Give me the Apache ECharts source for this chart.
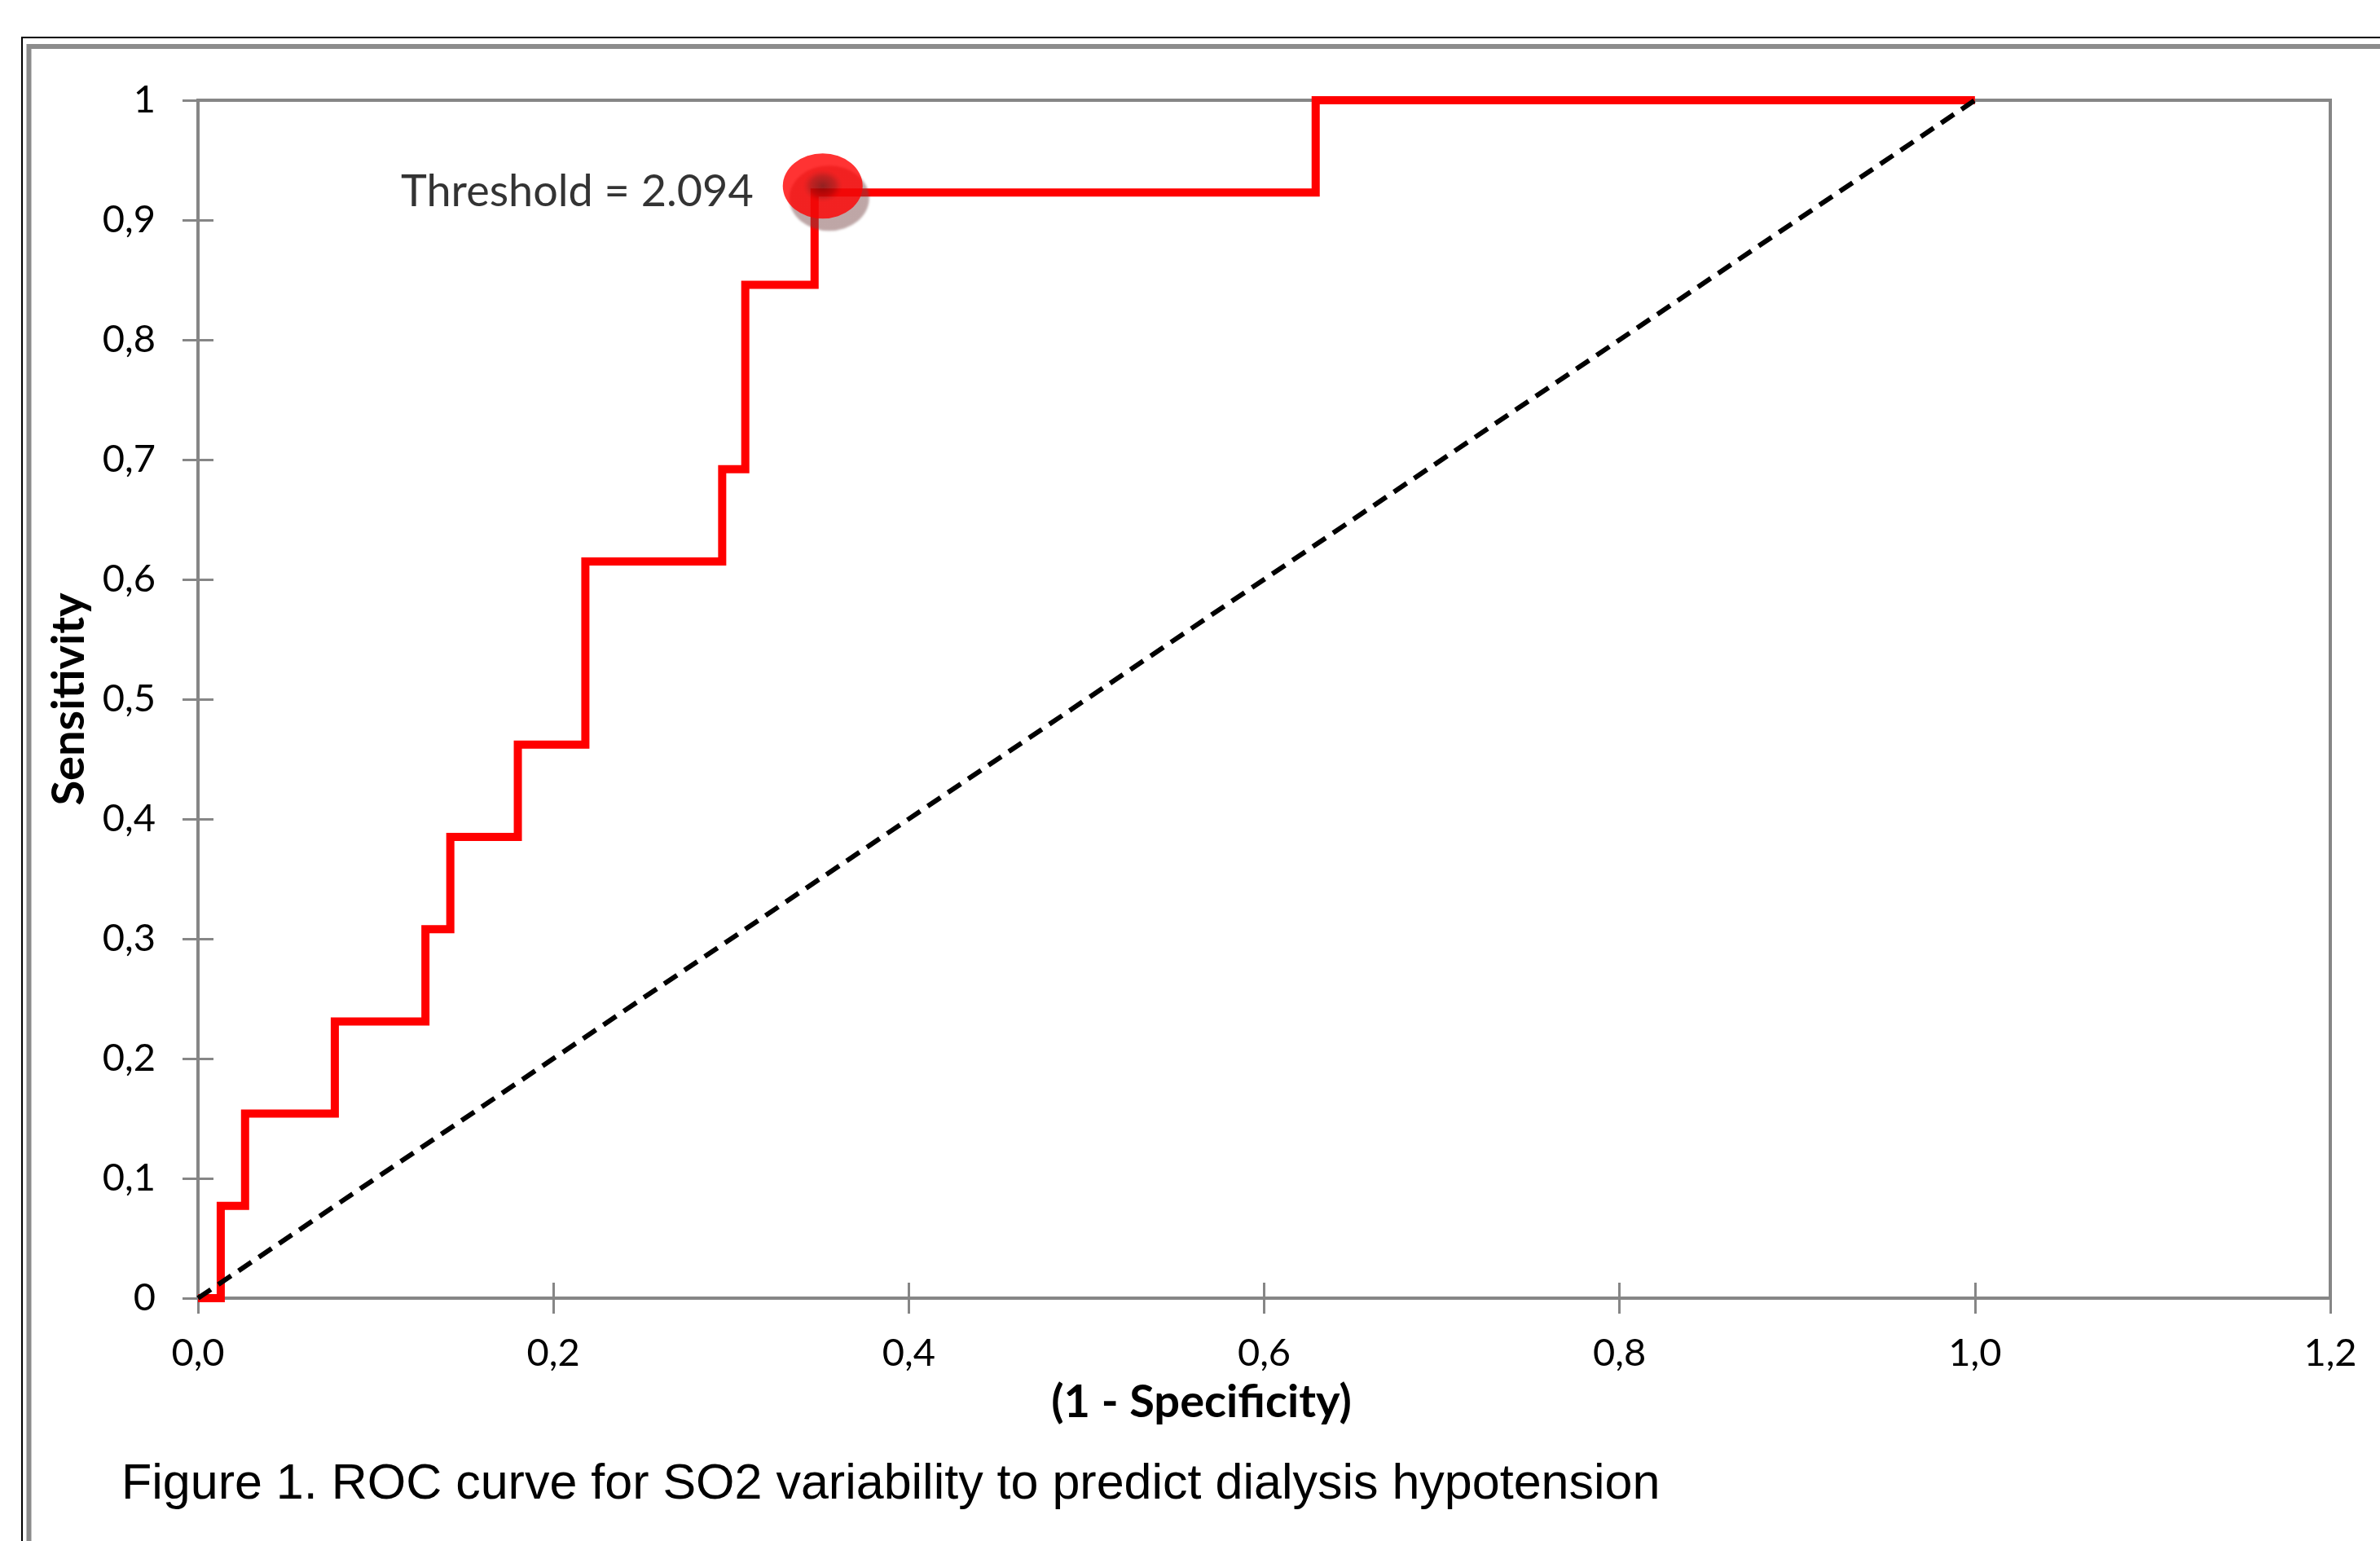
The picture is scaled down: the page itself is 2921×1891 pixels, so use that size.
<!DOCTYPE html>
<html>
<head>
<meta charset="utf-8">
<script src="https://cdn.jsdelivr.net/npm/echarts@6/dist/echarts.min.js"></script>
<style>
  html, body { margin: 0; padding: 0; background: #ffffff; }
  #chart { width: 2921px; height: 1891px; }
</style>
</head>
<body>
<div id="chart"></div>
<script>
// ---- Data ----
const fprSteps  = [0, 0.0128, 0.0265, 0.077, 0.128, 0.142, 0.180, 0.218, 0.295, 0.308, 0.347, 0.629, 1.0];
const sensSteps = [0, 0.077, 0.154, 0.231, 0.308, 0.385, 0.462, 0.615, 0.692, 0.846, 0.923, 1.0, 1.0];
const refLineX = [0, 1];
const refLineY = [0, 1];
const thresholdPoint = [0.347, 0.923];
const thresholdLabel = 'Threshold = 2.094';
const xTitle = '(1 - Specificity)';
const yTitle = 'Sensitivity';
const caption = 'Figure 1. ROC curve for SO2 variability to predict dialysis hypotension';
const xMin = 0, xMax = 1.2, xInterval = 0.2;
const yMin = 0, yMax = 1, yInterval = 0.1;

const rocData = fprSteps.map((x, i) => [x, sensSteps[i]]);
const refData = refLineX.map((x, i) => [x, refLineY[i]]);

const AXIS_GRAY = '#868686';
const LABEL_FONT = 'Lato';

function xFmt(v) { return v.toFixed(1).replace('.', ','); }
function yFmt(v) {
  const s = v.toFixed(1);
  if (s === '0.0') return '0';
  if (s === '1.0') return '1';
  return s.replace('.', ',');
}

const chart = echarts.init(document.getElementById('chart'), null, { renderer: 'canvas' });

const option = {
  animation: false,
  backgroundColor: '#ffffff',
  grid: {
    left: 243, top: 123, right: 61, bottom: 298,
    show: true, borderColor: AXIS_GRAY, borderWidth: 4, backgroundColor: 'transparent'
  },
  xAxis: [
    {
      type: 'value', min: xMin, max: xMax, interval: xInterval, position: 'bottom',
      name: xTitle, nameLocation: 'middle', nameGap: 100,
      nameTextStyle: { fontFamily: LABEL_FONT, fontWeight: 'bold', fontSize: 56, color: '#000', padding: [0, 154, 0, 0] },
      axisLine: { show: true, onZero: false, lineStyle: { color: AXIS_GRAY, width: 4 } },
      axisTick: { show: true, inside: false, length: 19, lineStyle: { color: AXIS_GRAY, width: 3 } },
      axisLabel: { show: true, formatter: xFmt, margin: 44, fontFamily: LABEL_FONT, fontSize: 47, color: '#000', showMinLabel: true, showMaxLabel: true },
      splitLine: { show: false }
    },
    {
      type: 'value', min: xMin, max: xMax, interval: xInterval, position: 'bottom',
      axisLine: { show: false, onZero: false },
      axisTick: { show: true, inside: true, length: 19, lineStyle: { color: AXIS_GRAY, width: 3 } },
      axisLabel: { show: false },
      splitLine: { show: false }
    }
  ],
  yAxis: [
    {
      type: 'value', min: yMin, max: yMax, interval: yInterval, position: 'left',
      name: yTitle, nameLocation: 'middle', nameGap: 130, nameRotate: 90,
      nameTextStyle: { fontFamily: LABEL_FONT, fontWeight: 'bold', fontSize: 56, color: '#000' },
      axisLine: { show: true, onZero: false, lineStyle: { color: AXIS_GRAY, width: 4 } },
      axisTick: { show: true, inside: false, length: 19, lineStyle: { color: AXIS_GRAY, width: 3 } },
      axisLabel: { show: true, formatter: yFmt, margin: 52, fontFamily: LABEL_FONT, fontSize: 47, color: '#000', showMinLabel: true, showMaxLabel: true },
      splitLine: { show: false }
    },
    {
      type: 'value', min: yMin, max: yMax, interval: yInterval, position: 'left',
      axisLine: { show: false, onZero: false },
      axisTick: { show: true, inside: true, length: 19, lineStyle: { color: AXIS_GRAY, width: 3 } },
      axisLabel: { show: false },
      splitLine: { show: false }
    }
  ],
  series: [
    {
      name: 'ROC', type: 'line', xAxisIndex: 0, yAxisIndex: 0,
      data: rocData, step: 'end', symbol: 'none', clip: false, z: 3,
      lineStyle: { color: '#ff0000', width: 10, join: 'miter', cap: 'butt' }
    },
    {
      name: 'Reference', type: 'line', xAxisIndex: 0, yAxisIndex: 0,
      data: refData, symbol: 'none', clip: false, z: 4,
      lineStyle: { color: '#000000', width: 6, type: [19, 11] }
    },
    {
      name: 'Threshold', type: 'scatter', xAxisIndex: 0, yAxisIndex: 0,
      data: [thresholdPoint], z: 5,
      symbol: 'circle', symbolSize: [98, 80], symbolOffset: [10, -8],
      itemStyle: {
        color: {
          type: 'radial', x: 0.5, y: 0.5, r: 0.5,
          colorStops: [
            { offset: 0, color: '#880000' },
            { offset: 0.3, color: '#c40000' },
            { offset: 0.42, color: '#ee0000' },
            { offset: 0.5, color: '#ff0000' },
            { offset: 1, color: '#ff0000' }
          ]
        },
        shadowColor: 'rgba(120, 70, 70, 0.6)', shadowBlur: 3, shadowOffsetX: 8, shadowOffsetY: 15
      },
      label: {
        show: true, position: 'left', distance: 36, offset: [0, 7],
        formatter: thresholdLabel,
        fontFamily: LABEL_FONT, fontSize: 54, color: '#000'
      },
      emphasis: { disabled: true }
    }
  ],
  graphic: [
    {
      type: 'rect', silent: true, z: 0,
      shape: { x: 27, y: 46, width: 3200, height: 2200 },
      style: { fill: 'none', stroke: '#000000', lineWidth: 2 }
    },
    {
      type: 'rect', silent: true, z: 0,
      shape: { x: 35.5, y: 57, width: 3200, height: 2200 },
      style: { fill: 'none', stroke: '#8c8c8c', lineWidth: 6 }
    },
    {
      type: 'text', silent: true, z: 10,
      x: 149, y: 1822,
      style: {
        text: caption,
        font: '61px "Liberation Sans", Arial, sans-serif',
        fill: '#000000',
        textAlign: 'left', textVerticalAlign: 'middle'
      }
    }
  ]
};

chart.setOption(option);
</script>
</body>
</html>
